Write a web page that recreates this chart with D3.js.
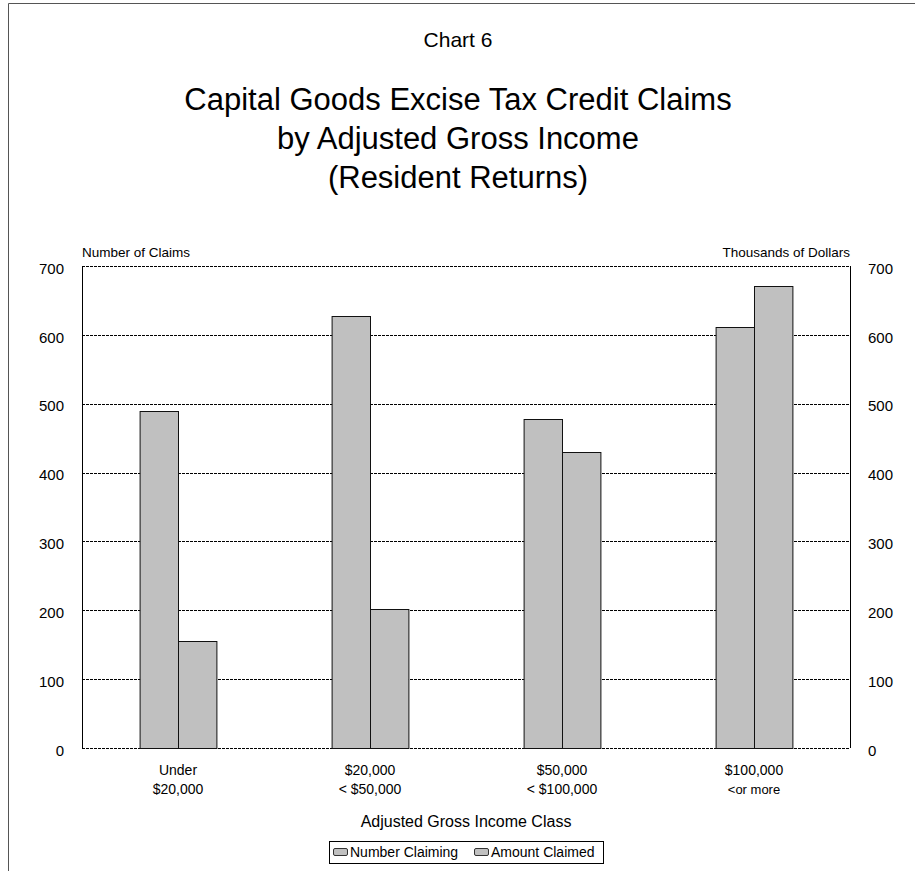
<!DOCTYPE html>
<html>
<head>
<meta charset="utf-8">
<script src="https://cdn.jsdelivr.net/npm/d3@7"></script>
<style>
  body { margin: 0; background: #fff; }
  svg { display: block; font-family: "Liberation Sans", Arial, sans-serif; }
</style>
</head>
<body>
<svg id="chart" width="915" height="871"></svg>
<script>
// data
var categories = ["Under|$20,000", "$20,000|< $50,000", "$50,000|< $100,000", "$100,000|<or more"];
var seriesNames = ["Number Claiming", "Amount Claimed"];
var numberClaiming = [490, 627, 478, 611];
var amountClaimed = [156, 202, 430, 671];
var yTicks = [0, 100, 200, 300, 400, 500, 600, 700];

var svg = d3.select("#chart");

// page frame (top + left edges only show in the picture)
svg.append("line").attr("x1", 8.5).attr("x2", 915).attr("y1", 3.5).attr("y2", 3.5)
    .attr("stroke", "#555").attr("stroke-width", 1);
svg.append("line").attr("x1", 8.5).attr("x2", 8.5).attr("y1", 3.5).attr("y2", 871)
    .attr("stroke", "#555").attr("stroke-width", 1);

// titles
svg.append("text").attr("x", 458).attr("y", 47).attr("text-anchor", "middle")
    .attr("font-size", 21).text("Chart 6");
var titleLines = ["Capital Goods Excise Tax Credit Claims", "by Adjusted Gross Income", "(Resident Returns)"];
svg.selectAll("text.title").data(titleLines).enter().append("text")
    .attr("class", "title")
    .attr("x", 458)
    .attr("y", function(d, i) { return 110 + i * 39; })
    .attr("text-anchor", "middle")
    .attr("font-size", 31)
    .text(function(d) { return d; });

var plot = { left: 82, right: 850, top: 266, bottom: 748 };

var y = d3.scaleLinear().domain([0, 700]).range([plot.bottom, plot.top]);
var x0 = d3.scaleBand().domain(categories).range([plot.left, plot.right])
    .paddingInner(0.6).paddingOuter(0.3);
var x1 = d3.scaleBand().domain(seriesNames).range([0, x0.bandwidth()]);

// gridlines
svg.append("g").selectAll("line").data(yTicks).enter().append("line")
    .attr("x1", plot.left).attr("x2", plot.right)
    .attr("y1", function(d) { return Math.round(y(d)) + 0.5; })
    .attr("y2", function(d) { return Math.round(y(d)) + 0.5; })
    .attr("stroke", "#000").attr("stroke-width", 1)
    .attr("stroke-dasharray", "3,1");

// plot side edges
svg.append("line").attr("x1", plot.left + 0.5).attr("x2", plot.left + 0.5)
    .attr("y1", plot.top).attr("y2", plot.bottom).attr("stroke", "#000");
svg.append("line").attr("x1", plot.right + 0.5).attr("x2", plot.right + 0.5)
    .attr("y1", plot.top).attr("y2", plot.bottom).attr("stroke", "#000");

// bars
var rows = categories.map(function(c, i) {
    return { cat: c, values: [
        { name: seriesNames[0], v: numberClaiming[i] },
        { name: seriesNames[1], v: amountClaimed[i] }
    ] };
});
var groups = svg.append("g").selectAll("g").data(rows).enter().append("g")
    .attr("transform", function(d) { return "translate(" + x0(d.cat) + ",0)"; });
groups.selectAll("rect").data(function(d) { return d.values; }).enter().append("rect")
    .attr("x", function(d) { return x1(d.name) + 0.5; })
    .attr("y", function(d) { return Math.round(y(d.v)) + 0.5; })
    .attr("width", x1.bandwidth())
    .attr("height", function(d) { return Math.round(y(0)) - Math.round(y(d.v)); })
    .attr("fill", "#c0c0c0")
    .attr("stroke", "#111")
    .attr("stroke-width", 1);

// y axes (same scale on both sides)
var leftAxis = svg.append("g").attr("transform", "translate(" + (plot.left - 18) + ",0)")
    .call(d3.axisLeft(y).tickValues(yTicks).tickSize(0).tickPadding(0));
var rightAxis = svg.append("g").attr("transform", "translate(" + (plot.right + 18) + ",0)")
    .call(d3.axisRight(y).tickValues(yTicks).tickSize(0).tickPadding(0));
[leftAxis, rightAxis].forEach(function(ax) {
    ax.select(".domain").remove();
    ax.selectAll("text").attr("font-size", 15).attr("fill", "#000")
        .attr("font-family", "Liberation Sans, Arial, sans-serif")
        .attr("dy", "0.35em").attr("y", 2);
});

// axis titles
svg.append("text").attr("x", plot.left).attr("y", 257).attr("font-size", 13.5)
    .text("Number of Claims");
svg.append("text").attr("x", plot.right).attr("y", 257).attr("font-size", 13.5)
    .attr("text-anchor", "end").text("Thousands of Dollars");

// category labels
var catLabels = svg.append("g").selectAll("text").data(categories).enter().append("text")
    .attr("x", function(d) { return x0(d) + x0.bandwidth() / 2; })
    .attr("y", 775)
    .attr("text-anchor", "middle")
    .attr("font-size", 14);
catLabels.each(function(d) {
    var parts = d.split("|");
    var t = d3.select(this);
    parts.forEach(function(p, i) {
        t.append("tspan")
            .attr("x", t.attr("x"))
            .attr("dy", i === 0 ? 0 : 19)
            .attr("font-size", i === 1 && p.indexOf("or more") >= 0 ? 13 : 14)
            .text(p);
    });
});

svg.append("text").attr("x", (plot.left + plot.right) / 2).attr("y", 827)
    .attr("text-anchor", "middle").attr("font-size", 16)
    .text("Adjusted Gross Income Class");

// legend
var legend = svg.append("g");
legend.append("rect").attr("x", 329.5).attr("y", 841.5).attr("width", 274).attr("height", 22)
    .attr("fill", "#fff").attr("stroke", "#000");
var legendX = [333, 474];
var items = legend.selectAll("g").data(seriesNames).enter().append("g")
    .attr("transform", function(d, i) { return "translate(" + legendX[i] + ",0)"; });
items.append("rect").attr("x", 0.5).attr("y", 848.5).attr("width", 14).attr("height", 7)
    .attr("rx", 1.5).attr("fill", "#c0c0c0").attr("stroke", "#333");
items.append("text").attr("x", 17).attr("y", 857).attr("font-size", 14)
    .text(function(d) { return d; });
</script>
</body>
</html>
